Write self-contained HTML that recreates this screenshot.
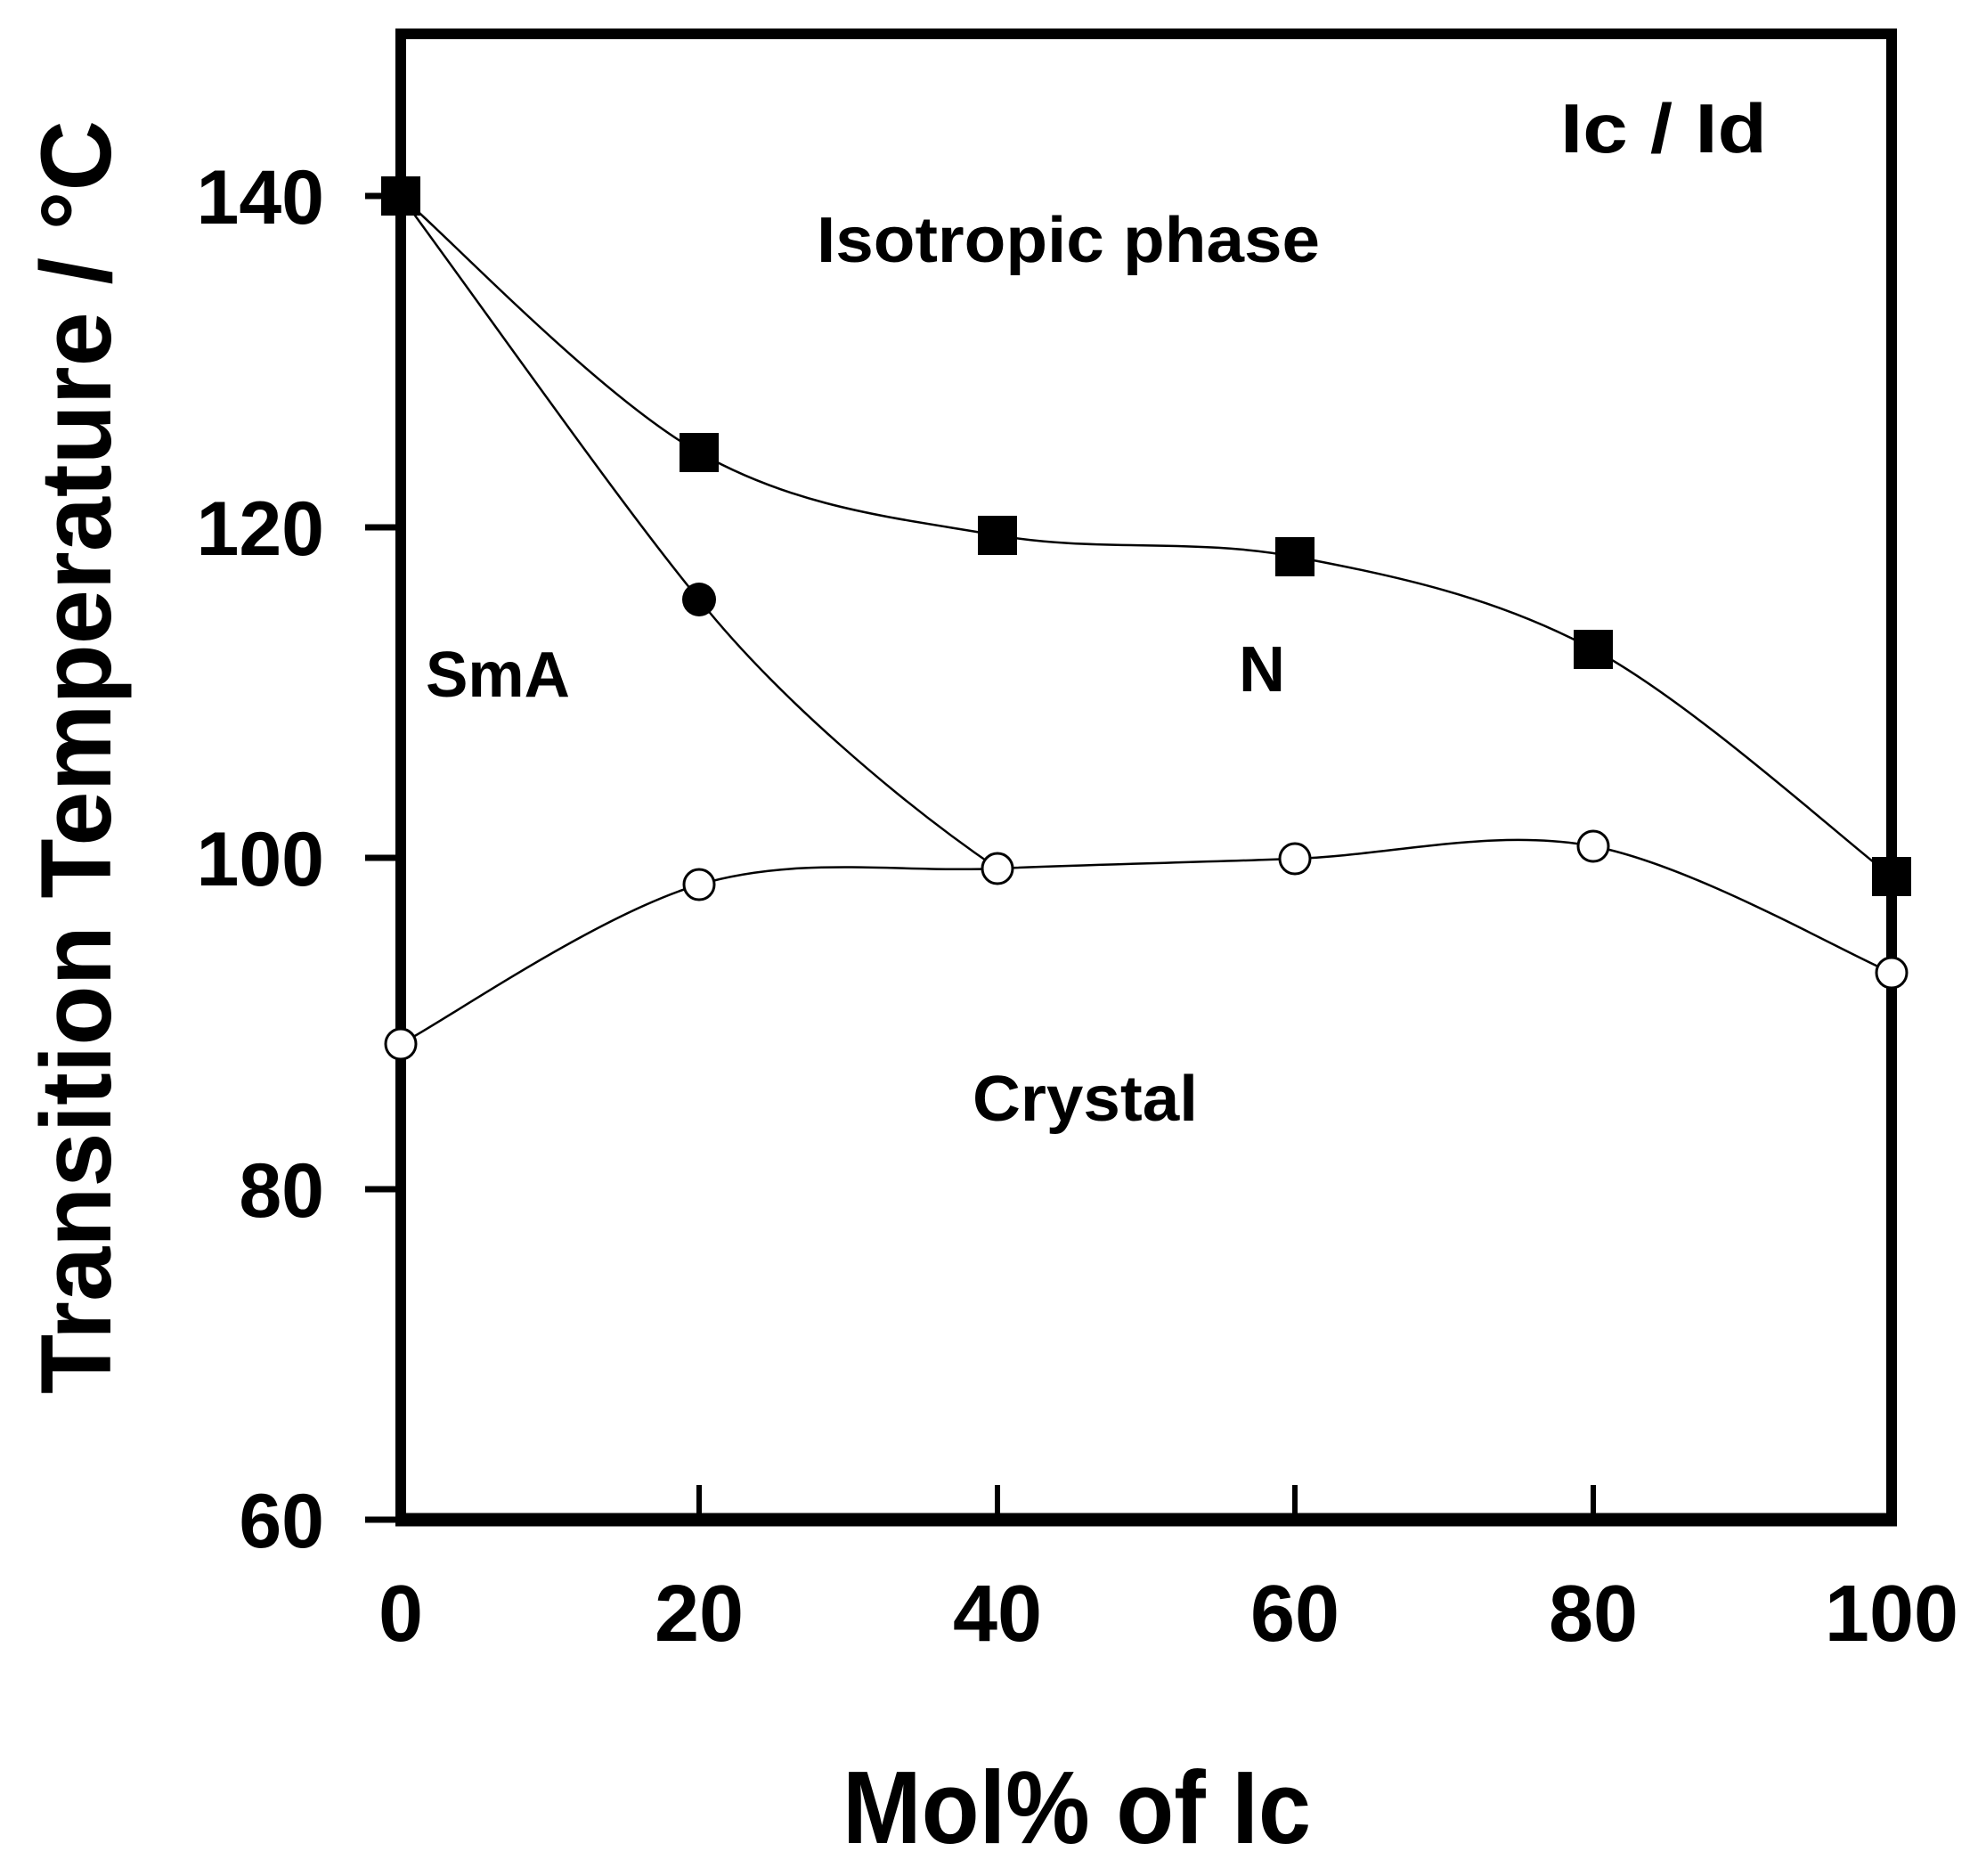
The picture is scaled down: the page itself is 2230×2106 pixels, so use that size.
<!DOCTYPE html>
<html><head><meta charset="utf-8"><style>html,body{margin:0;padding:0;background:#fff}svg{display:block}</style></head>
<body>
<svg width="2230" height="2106" viewBox="0 0 2230 2106" xmlns="http://www.w3.org/2000/svg" font-family="Liberation Sans, Arial, sans-serif" font-weight="bold">
<rect width="2230" height="2106" fill="#fff"/>
<rect x="450" y="38" width="1674" height="1668" fill="none" stroke="#000" stroke-width="12"/>
<line x1="444" y1="1706" x2="2130" y2="1706" stroke="#000" stroke-width="15"/>
<g stroke="#000" stroke-width="7">
<line x1="410" y1="220" x2="450" y2="220"/>
<line x1="410" y1="592" x2="450" y2="592"/>
<line x1="410" y1="963" x2="450" y2="963"/>
<line x1="410" y1="1335" x2="450" y2="1335"/>
<line x1="410" y1="1706" x2="450" y2="1706"/>
</g>
<g stroke="#000" stroke-width="6">
<line x1="785" y1="1667" x2="785" y2="1706"/>
<line x1="1120" y1="1667" x2="1120" y2="1706"/>
<line x1="1454" y1="1667" x2="1454" y2="1706"/>
<line x1="1789" y1="1667" x2="1789" y2="1706"/>
</g>
<g font-size="86" text-anchor="end">
<text x="364" y="251">140</text>
<text x="364" y="623">120</text>
<text x="364" y="994">100</text>
<text x="364" y="1366">80</text>
<text x="364" y="1737">60</text>
</g>
<g font-size="90" text-anchor="middle">
<text x="450" y="1842">0</text>
<text x="785" y="1842">20</text>
<text x="1120" y="1842">40</text>
<text x="1454" y="1842">60</text>
<text x="1789" y="1842">80</text>
<text x="2124" y="1842">100</text>
</g>
<text x="946" y="2069" font-size="116" textLength="526" lengthAdjust="spacingAndGlyphs">Mol% of Ic</text>
<text transform="translate(124,1565) rotate(-90)" font-size="112" textLength="1430" lengthAdjust="spacingAndGlyphs">Transition Temperature / °C</text>
<text x="1752" y="171" font-size="78" textLength="232" lengthAdjust="spacingAndGlyphs">Ic / Id</text>
<text x="917" y="294" font-size="72" textLength="565" lengthAdjust="spacingAndGlyphs">Isotropic phase</text>
<text x="478" y="782" font-size="72" textLength="162" lengthAdjust="spacingAndGlyphs">SmA</text>
<text x="1391" y="776" font-size="72">N</text>
<text x="1092" y="1258" font-size="72" textLength="253" lengthAdjust="spacingAndGlyphs">Crystal</text>
<g fill="none" stroke="#000" stroke-width="2.5">
<path d="M450,220 C506,268 673,444.5 785,508 C897,571.5 1008.5,581.5 1120,601 C1231.5,620.5 1342.5,603.7 1454,625 C1565.5,646.3 1677.3,669.2 1789,729 C1900.7,788.8 2068,941.5 2124,984"/>
<path d="M450,1172 C506,1142 673,1026 785,993 C896.7,960.2 1008.5,979.8 1120,975 C1231.5,970.2 1342.5,968.2 1454,964 C1565.5,959.8 1677.3,929.3 1789,950 C1900.7,971.3 2068,1068.3 2124,1092"/>
<path d="M450,220 C560,370 700,570 785,673 C870,780 1010,900 1120,975"/>
</g>
<g fill="#000">
<rect x="428" y="198" width="44" height="44"/>
<rect x="763" y="486" width="44" height="44"/>
<rect x="1098" y="579" width="44" height="44"/>
<rect x="1432" y="603" width="44" height="44"/>
<rect x="1767" y="707" width="44" height="44"/>
<rect x="2102" y="962" width="44" height="44"/>
<circle cx="785" cy="673" r="19"/>
</g>
<g fill="#fff" stroke="#000" stroke-width="3">
<circle cx="450" cy="1172" r="17"/>
<circle cx="785" cy="993" r="17"/>
<circle cx="1120" cy="975" r="17"/>
<circle cx="1454" cy="964" r="17"/>
<circle cx="1789" cy="950" r="17"/>
<circle cx="2124" cy="1092" r="17"/>
</g>
</svg>
</body></html>
